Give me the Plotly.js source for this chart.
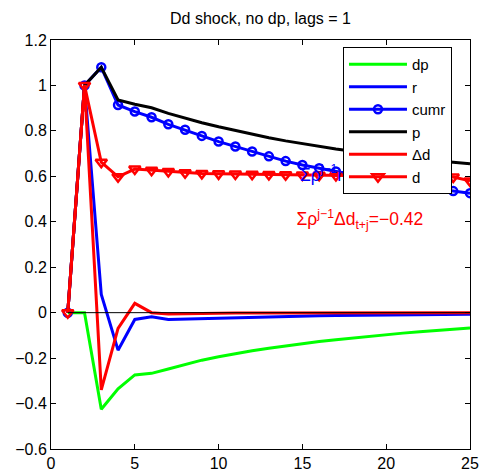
<!DOCTYPE html>
<html>
<head>
<meta charset="utf-8">
<script src="https://cdn.plot.ly/plotly-3.0.1.min.js"></script>
<style>html,body{margin:0;padding:0;background:#fff;}#chart{width:479px;height:472px;}</style>
</head>
<body>
<div id="chart"></div>
<script>
const periods = [1,2,3,4,5,6,7,8,9,10,11,12,13,14,15,16,17,18,19,20,21,22,23,24,25];
const dp   = [0, 0, -0.425, -0.335, -0.274, -0.267, -0.248, -0.228, -0.209, -0.194, -0.180, -0.168, -0.157, -0.146, -0.137, -0.127, -0.119, -0.111, -0.103, -0.096, -0.090, -0.084, -0.078, -0.073, -0.068];
const r    = [0, 1.0, 0.08, -0.165, -0.03, -0.018, -0.03, -0.028, -0.025, -0.023, -0.021, -0.019, -0.018, -0.016, -0.015, -0.014, -0.013, -0.012, -0.011, -0.010, -0.010, -0.009, -0.008, -0.008, -0.007];
const cumr = [0, 1.0, 1.08, 0.914, 0.885, 0.86, 0.829, 0.805, 0.778, 0.753, 0.731, 0.709, 0.688, 0.667, 0.650, 0.636, 0.621, 0.607, 0.593, 0.578, 0.565, 0.555, 0.546, 0.535, 0.526];
const p    = [0, 1.0, 1.08, 0.936, 0.917, 0.902, 0.877, 0.856, 0.836, 0.818, 0.801, 0.785, 0.770, 0.756, 0.743, 0.731, 0.720, 0.710, 0.700, 0.691, 0.683, 0.675, 0.668, 0.661, 0.655];
const dd   = [0, 1.0, -0.34, -0.069, 0.041, 0.0, -0.006, -0.004, -0.003, -0.003, -0.002, -0.002, -0.002, -0.001, -0.001, -0.001, -0.001, -0.001, 0, 0, 0, 0, 0, 0, 0];
const d    = [0, 1.0, 0.662, 0.598, 0.632, 0.627, 0.621, 0.616, 0.613, 0.611, 0.610, 0.609, 0.608, 0.607, 0.606, 0.605, 0.604, 0.603, 0.602, 0.601, 0.600, 0.599, 0.598, 0.597, 0.58];
const zeroRef = [0,0,0,0,0,0,0,0,0,0,0,0,0,0,0,0,0,0,0,0,0,0,0,0,0];
const xTicks = [0,5,10,15,20,25];
const yTicks = [-0.6,-0.4,-0.2,0,0.2,0.4,0.6,0.8,1,1.2];
const titleText = 'Dd shock, no dp, lags = 1';
const annText = ['Σρ<sup>j−1</sup>r<sub>t+j</sub>=1.42', 'Σρ<sup>j−1</sup>Δd<sub>t+j</sub>=−0.42'];
const annX = [14.85, 14.65];
const annY = [0.6, 0.405];
const annColor = ['#0000ff', '#ff0000'];

const FONT = 'Liberation Sans, Arial, Helvetica, sans-serif';
const traces = [
  {x: periods, y: dp, name: 'dp', mode: 'lines', line: {color: '#00ff00', width: 3}},
  {x: periods, y: r, name: 'r', mode: 'lines', line: {color: '#0000ff', width: 3}},
  {x: periods, y: cumr, name: 'cumr', mode: 'lines+markers', line: {color: '#0000ff', width: 3},
   marker: {symbol: 'circle-open', size: 8, color: '#0000ff', line: {width: 2.5, color: '#0000ff'}}},
  {x: periods, y: p, name: 'p', mode: 'lines', line: {color: '#000000', width: 3}},
  {x: periods, y: dd, name: 'Δd', mode: 'lines', line: {color: '#ff0000', width: 3}},
  {x: periods, y: d, name: 'd', mode: 'lines+markers', line: {color: '#ff0000', width: 3},
   marker: {symbol: 'triangle-down-open', size: 10, color: '#ff0000', line: {width: 2.5, color: '#ff0000'}}},
  {x: periods, y: zeroRef, mode: 'lines', showlegend: false, line: {color: '#000000', width: 1}},
  {x: annX, y: annY, text: annText, mode: 'text', textposition: 'middle right', showlegend: false,
   textfont: {family: FONT, size: 17.5, color: annColor}}
];
const axisBase = {
  showgrid: false, zeroline: false, showline: true, linecolor: '#000', linewidth: 1,
  mirror: 'ticks', ticks: 'inside', ticklen: 5, tickcolor: '#000', tickwidth: 1,
  tickfont: {family: FONT, size: 16, color: '#000'}
};
const layout = {
  width: 479, height: 472,
  margin: {l: 51, r: 9, t: 40, b: 23},
  paper_bgcolor: '#fff', plot_bgcolor: '#fff',
  title: {text: titleText, font: {family: FONT, size: 16, color: '#000'}, x: 0.5, xref: 'paper', xanchor: 'center', y: 0.962, yanchor: 'middle'},
  xaxis: Object.assign({}, axisBase, {range: [0, 25], tickvals: xTicks}),
  yaxis: Object.assign({}, axisBase, {range: [-0.6, 1.2], tickvals: yTicks}),
  showlegend: true,
  legend: {x: 0.957, xanchor: 'right', y: 0.983, yanchor: 'top', bgcolor: '#fff', bordercolor: '#000', borderwidth: 1,
           font: {family: FONT, size: 15, color: '#000'}, itemwidth: 58}
};
Plotly.newPlot('chart', traces, layout, {displayModeBar: false, staticPlot: true});
</script>
</body>
</html>
